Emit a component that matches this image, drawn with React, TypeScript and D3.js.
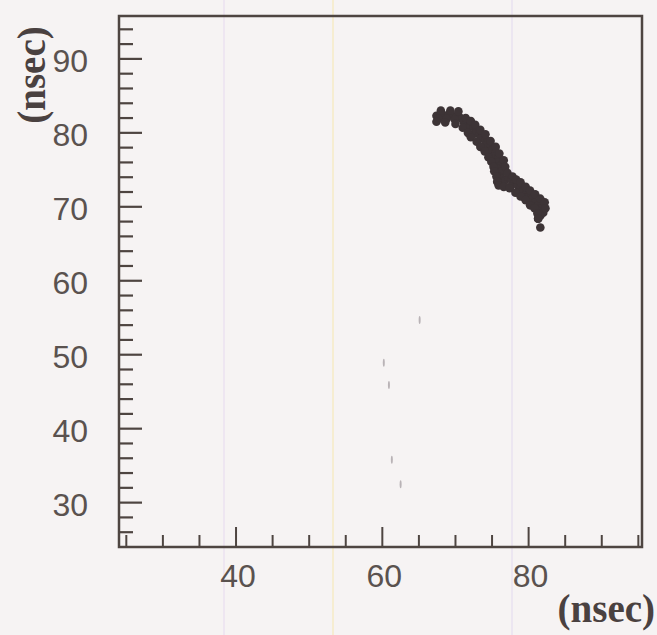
import React from "react";
import * as d3 from "d3";

// measured points (nsec, nsec): band core
const ptX = [
  67.4, 68.0, 68.5, 69.1, 69.6, 70.2, 70.7, 67.7, 68.8, 69.9,
  71.1, 71.5, 72.1, 71.8, 72.5, 72.9, 72.6, 73.3, 73.7, 73.4,
  74.1, 74.4, 74.0, 74.8, 75.1, 74.7, 75.5, 75.3, 75.9, 75.7,
  76.2, 75.7, 76.3, 75.9, 76.4, 76.2, 76.8, 77.2, 77.7, 78.1,
  77.5, 78.5, 78.9, 78.6, 79.3, 79.7, 79.4, 80.1, 80.5, 80.2,
  80.9, 81.3, 81.7, 81.2, 82.0, 81.6, 81.3, 81.6,
];
const ptY = [
  82.3, 82.5, 82.3, 82.5, 82.3, 82.2, 82.0, 81.9, 81.9, 81.8,
  81.5, 81.2, 81.4, 80.7, 80.8, 80.4, 79.9, 80.0, 79.6, 79.2,
  79.1, 78.7, 78.3, 78.3, 77.7, 77.5, 77.3, 76.8, 76.7, 76.0,
  75.6, 75.2, 74.8, 74.1, 73.8, 73.3, 73.6, 74.0, 73.6, 73.2,
  72.7, 72.9, 72.5, 71.9, 72.2, 71.7, 71.3, 71.4, 71.0, 70.5,
  70.6, 70.2, 69.8, 69.5, 69.2, 68.8, 68.4, 67.2,
];
// upper-right edge of the band
const upX = [68.0, 69.3, 70.4, 71.4, 72.1, 72.7, 73.4, 74.1, 74.8, 75.5, 76.0, 76.6, 76.8, 77.1, 77.8, 78.3, 78.9, 79.6, 80.2, 80.9, 81.6, 82.2, 82.3];
const upY = [83.0, 83.0, 82.9, 82.0, 81.6, 81.1, 80.4, 79.8, 78.9, 78.1, 77.2, 76.3, 75.4, 74.6, 74.1, 73.7, 73.3, 72.7, 72.2, 71.7, 71.1, 70.6, 69.8];
// lower-left edge of the band
const loX = [67.4, 68.6, 70.0, 71.0, 71.7, 72.1, 72.9, 73.4, 74.0, 74.5, 74.9, 75.2, 75.3, 75.6, 75.7, 75.9, 76.6, 77.4, 78.2, 78.9, 79.6, 80.2, 80.8, 81.2, 81.3];
const loY = [81.5, 81.4, 81.2, 80.7, 80.0, 79.4, 78.8, 78.1, 77.5, 76.7, 76.1, 75.4, 74.8, 74.1, 73.4, 72.9, 72.7, 72.5, 71.9, 71.4, 70.9, 70.2, 69.8, 69.1, 68.4];
// faint specks
const strayX = [60.2, 60.9, 61.3, 62.5, 65.1];
const strayY = [48.9, 45.9, 35.8, 32.5, 54.7];

const xLabels = [40, 60, 80];
const yLabels = [30, 40, 50, 60, 70, 80, 90];

const ink = "#4e4541";

export default function App() {
  const x = d3.scaleLinear().domain([24, 95.5]).range([119, 642]);
  const y = d3.scaleLinear().domain([24, 95.8]).range([547, 16]);

  const xTicks = d3.range(25, 96, 5);
  const yTicks = d3.range(26, 95, 2);

  const allX = [...ptX, ...upX, ...loX];
  const allY = [...ptY, ...upY, ...loY];

  return (
    <svg width={657} height={635} style={{ position: "fixed", left: 0, top: 0 }}>
      <rect width={657} height={635} fill="#f6f3f3" />
      {/* paper lines */}
      <line x1={224} x2={224} y1={0} y2={635} stroke="#ebe2f0" strokeWidth={1.5} />
      <line x1={333} x2={333} y1={0} y2={635} stroke="#f6ebc6" strokeWidth={1.5} />
      <line x1={512} x2={512} y1={0} y2={635} stroke="#e9e2f1" strokeWidth={1.5} />

      <rect x={119} y={16} width={523} height={531} fill="none" stroke={ink} strokeWidth={2.5} />

      {xTicks.map((t) => (
        <line key={"xt" + t} x1={x(t)} x2={x(t)} y1={547} y2={547 - (t % 20 === 0 ? 20 : 12)} stroke={ink} strokeWidth={2} />
      ))}
      {yTicks.map((t) => (
        <line key={"yt" + t} x1={119} x2={119 + (t % 10 === 0 ? 23 : 14)} y1={y(t)} y2={y(t)} stroke={ink} strokeWidth={2.2} />
      ))}

      {xLabels.map((t) => (
        <text key={"xl" + t} x={x(t) + 2} y={587} textAnchor="middle" fontFamily="Liberation Sans" fontSize={32} fill="#5a524f">{t}</text>
      ))}
      {yLabels.map((t) => (
        <text key={"yl" + t} x={88} y={y(t) + 2} textAnchor="end" dominantBaseline="central" fontFamily="Liberation Sans" fontSize={32} fill="#5a524f">{t}</text>
      ))}

      <text transform="translate(31,75) rotate(-90)" textAnchor="middle" dominantBaseline="central" fontFamily="Liberation Serif" fontWeight="bold" fontSize={39} fill="#4a4140">(nsec)</text>
      <text x={655} y={622} textAnchor="end" fontFamily="Liberation Serif" fontWeight="bold" fontSize={39} fill="#4a4140">(nsec)</text>

      {strayX.map((v, i) => (
        <ellipse key={"s" + i} cx={x(v)} cy={y(strayY[i])} rx={1} ry={4} fill="#b9b3b6" />
      ))}
      {allX.map((v, i) => (
        <circle key={"p" + i} cx={x(v)} cy={y(allY[i])} r={4.3} fill="#3d3436" />
      ))}
    </svg>
  );
}
